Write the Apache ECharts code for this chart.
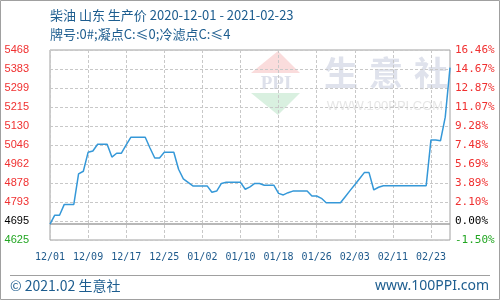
<!DOCTYPE html>
<html>
<head>
<meta charset="utf-8">
<script src="https://cdn.jsdelivr.net/npm/echarts@6/dist/echarts.min.js"></script>
<style>html,body{margin:0;padding:0;background:#fff}#c{width:500px;height:300px}</style>
</head>
<body>
<div id="c"></div>
<script>
// ---- data ----
const startDate = '2020-12-01';
const dayCount = 85; // 2020-12-01 .. 2021-02-23
const xLabels = ['12/01','12/09','12/17','12/25','01/02','01/10','01/18','01/26','02/03','02/11','02/23'];
const leftLabels = ['4625','4695','4793','4878','4962','5046','5130','5215','5299','5383','5468'];
const rightLabels = ['-1.50%','0.00%','2.10%','3.89%','5.69%','7.48%','9.28%','11.07%','12.87%','14.67%','16.46%'];
const baseValue = 4695;
const yMin = 4625;
const yMax = 5468;
const prices = [
  4695, 4735, 4735, 4783, 4783, 4783, 4918, 4930, 5014, 5020,
  5050, 5050, 5050, 4993, 5010, 5010, 5047, 5081, 5081, 5081,
  5081, 5033, 4989, 4989, 5014, 5014, 5014, 4939, 4896, 4881,
  4865, 4865, 4865, 4865, 4837, 4842, 4876, 4881, 4881, 4881,
  4881, 4850, 4861, 4876, 4876, 4868, 4868, 4868, 4832, 4825,
  4835, 4842, 4842, 4842, 4842, 4820, 4820, 4810, 4790, 4790,
  4790, 4790, 4817, 4844, 4870, 4897, 4924, 4924, 4847, 4859,
  4866, 4866, 4866, 4866, 4866, 4866, 4866, 4866, 4866, 4866,
  5069, 5069, 5065, 5170, 5390
];

// categories (calendar days)
const categories = [];
{
  const d0 = new Date(startDate + 'T00:00:00Z');
  for (let i = 0; i < dayCount; i++) {
    const d = new Date(d0.getTime() + i * 86400000);
    categories.push(d.toISOString().slice(0, 10));
  }
}

const yInterval = (yMax - yMin) / 10;
const tickIdx = v => Math.round((v - yMin) / yInterval);
const labelColor = v => { const k = tickIdx(v); return k === 0 ? '#22a622' : (k === 1 ? '#000000' : '#f03030'); };

const chart = echarts.init(document.getElementById('c'), null, {renderer: 'canvas'});
const gridLine = {show: true, lineStyle: {color: '#c8c8c8', type: [3, 2], width: 1}};

chart.setOption({
  animation: false,
  grid: {left: 50, right: 50, top: 50, bottom: 60, show: true, borderColor: '#a0a0a0', borderWidth: 1, containLabel: false, outerBoundsMode: 'none'},
  xAxis: {
    type: 'category', data: categories, boundaryGap: false,
    axisLine: {show: false}, axisTick: {show: false},
    axisLabel: {interval: 7, formatter: (v, i) => xLabels[Math.round(i / 8)], color: '#1f5a8c',
      fontFamily: 'DejaVu Sans Mono', fontSize: 10, margin: 12},
    splitLine: Object.assign({interval: 7}, gridLine)
  },
  yAxis: [
    {type: 'value', min: yMin, max: yMax, interval: yInterval, position: 'left',
      axisLine: {show: false}, axisTick: {show: false}, splitLine: gridLine,
      axisLabel: {formatter: v => leftLabels[tickIdx(v)], color: labelColor, fontFamily: 'Liberation Sans',
        fontSize: 11, margin: 21, showMinLabel: true, showMaxLabel: true}},
    {type: 'value', min: yMin, max: yMax, interval: yInterval, position: 'right',
      axisLine: {show: false}, axisTick: {show: false}, splitLine: {show: false},
      axisLabel: {formatter: v => rightLabels[tickIdx(v)], color: labelColor, fontFamily: 'DejaVu Sans Mono',
        fontSize: 11, margin: 5, align: 'left', showMinLabel: true, showMaxLabel: true}}
  ],
  series: [{
    type: 'line', data: prices, yAxisIndex: 0, showSymbol: false, symbol: 'none',
    lineStyle: {color: '#3598d8', width: 1.5}, z: 5,
    markLine: {silent: true, symbol: 'none', label: {show: false},
      lineStyle: {color: '#a0a0a0', type: 'solid', width: 1.5}, data: [{yAxis: baseValue}]}
  }],
  graphic: [
    {type: 'rect', shape: {x: 0.5, y: 0.5, width: 499, height: 299}, style: {fill: 'none', stroke: '#a0a0a0', lineWidth: 1}},
    // watermark
    {type: 'polygon', z: -10, shape: {points: [[278, 51], [251, 73], [300, 73]]}, style: {fill: '#fadcdc'}},
    {type: 'text', z: -10, style: {x: 276, y: 84, text: 'PPI', fill: '#dde0ea', font: 'bold 19px "Liberation Serif"', align: 'center', verticalAlign: 'middle'}},
    {type: 'polygon', z: -10, shape: {points: [[251, 93], [300, 93], [278, 115]]}, style: {fill: '#d9f0e0'}},
    {type: 'text', z: -10, style: {x: 341, y: 73, text: '生', fill: '#dfe2ec', font: 'bold 34px "Noto Sans CJK SC"', align: 'center', verticalAlign: 'middle'}},
    {type: 'text', z: -10, style: {x: 386, y: 73, text: '意', fill: '#dfe2ec', font: 'bold 34px "Noto Sans CJK SC"', align: 'center', verticalAlign: 'middle'}},
    {type: 'text', z: -10, style: {x: 431, y: 73, text: '社', fill: '#dfe2ec', font: 'bold 34px "Noto Sans CJK SC"', align: 'center', verticalAlign: 'middle'}},
    {type: 'text', z: -10, style: {x: 385, y: 106, text: 'WWW.100PPI.COM', fill: '#e6e6e6', font: '13px "Liberation Sans"', align: 'center', verticalAlign: 'middle'}},
    // titles
    {type: 'text', style: {x: 50, y: 15, text: '柴油 山东 生产价 2020-12-01 - 2021-02-23', fill: '#1d5d8f', font: '13px "Noto Sans CJK SC"', verticalAlign: 'middle'}},
    {type: 'text', style: {x: 50, y: 34, text: '牌号:0#;凝点C:≤0;冷滤点C:≤4', fill: '#1d5d8f', font: '13px "Noto Sans CJK SC"', verticalAlign: 'middle'}},
    // footer
    {type: 'line', shape: {x1: 10, y1: 275.5, x2: 490, y2: 275.5}, style: {stroke: '#a0a0a0', lineWidth: 1}},
    {type: 'text', style: {x: 10, y: 286, text: '© 2021.02 生意社', fill: '#1d5d8f', font: '14px "Noto Sans CJK SC"', verticalAlign: 'middle'}},
    {type: 'text', style: {x: 489, y: 286, text: 'www.100PPI.com', fill: '#1d5d8f', font: '14px "Noto Sans"', align: 'right', verticalAlign: 'middle'}}
  ]
});
</script>
</body>
</html>
